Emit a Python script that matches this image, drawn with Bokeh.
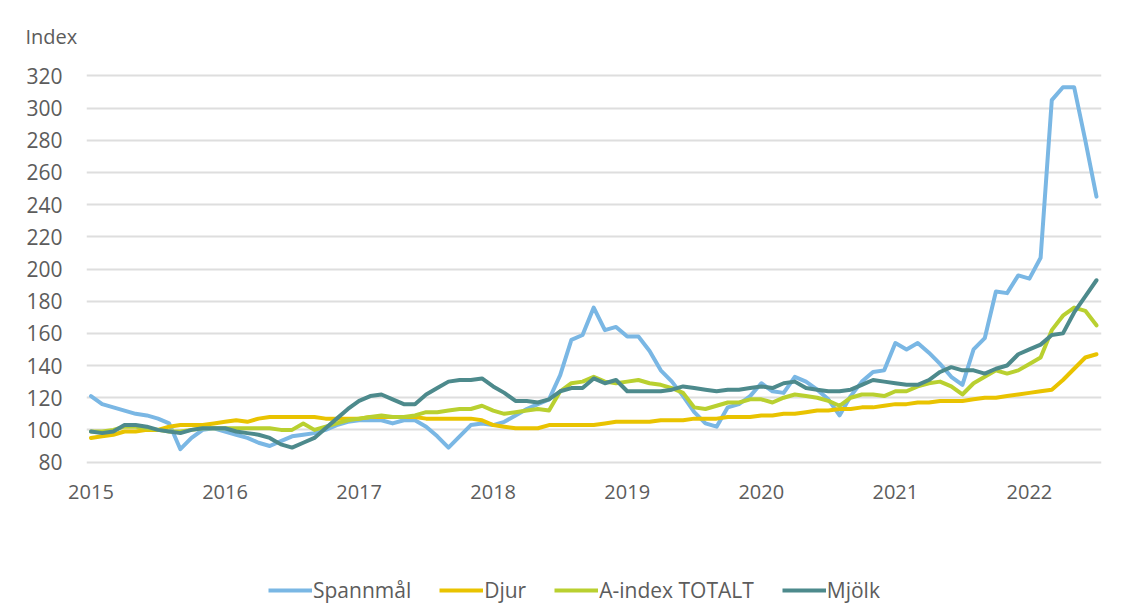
from bokeh.plotting import figure
from bokeh.layouts import column
from bokeh.models import ColumnDataSource, Range1d, FixedTicker, SingleIntervalTicker, Legend, LegendItem
from bokeh.embed import file_html
from bokeh.resources import INLINE

# ---- data (monthly index, Jan 2015 - Jul 2022) ----
spannmal = [121, 116, 114, 112, 110, 109, 107, 104, 88, 95, 100, 101,
            99, 97, 95, 92, 90, 93, 96, 97, 98, 100, 103, 105,
            106, 106, 106, 104, 106, 106, 102, 96, 89, 96, 103, 104,
            103, 105, 109, 113, 116, 119, 134, 156, 159, 176, 162, 164,
            158, 158, 149, 137, 130, 121, 111, 104, 102, 114, 116, 121,
            129, 124, 123, 133, 130, 125, 119, 109, 121, 130, 136, 137,
            154, 150, 154, 148, 141, 133, 128, 150, 157, 186, 185, 196,
            194, 207, 305, 313, 313, 280, 245]
djur = [95, 96, 97, 99, 99, 100, 100, 102, 103, 103, 103, 104,
        105, 106, 105, 107, 108, 108, 108, 108, 108, 107, 107, 107,
        107, 108, 108, 108, 108, 108, 107, 107, 107, 107, 107, 106,
        103, 102, 101, 101, 101, 103, 103, 103, 103, 103, 104, 105,
        105, 105, 105, 106, 106, 106, 107, 107, 107, 108, 108, 108,
        109, 109, 110, 110, 111, 112, 112, 113, 113, 114, 114, 115,
        116, 116, 117, 117, 118, 118, 118, 119, 120, 120, 121, 122,
        123, 124, 125, 131, 138, 145, 147]
a_index = [99, 99, 100, 102, 102, 101, 100, 99, 99, 100, 101, 101,
           101, 101, 101, 101, 101, 100, 100, 104, 100, 102, 104, 106,
           107, 108, 109, 108, 108, 109, 111, 111, 112, 113, 113, 115,
           112, 110, 111, 112, 113, 112, 124, 129, 130, 133, 130, 129,
           130, 131, 129, 128, 126, 123, 114, 113, 115, 117, 117, 119,
           119, 117, 120, 122, 121, 120, 118, 115, 120, 122, 122, 121,
           124, 124, 127, 129, 130, 127, 122, 129, 133, 137, 135, 137,
           141, 145, 162, 171, 176, 174, 165]
mjolk = [99, 98, 99, 103, 103, 102, 100, 99, 98, 100, 101, 101,
         101, 99, 98, 97, 95, 91, 89, 92, 95, 101, 107, 113,
         118, 121, 122, 119, 116, 116, 122, 126, 130, 131, 131, 132,
         127, 123, 118, 118, 117, 119, 124, 126, 126, 132, 129, 131,
         124, 124, 124, 124, 125, 127, 126, 125, 124, 125, 125, 126,
         127, 126, 129, 130, 126, 125, 124, 124, 125, 128, 131, 130,
         129, 128, 128, 131, 136, 139, 137, 137, 135, 138, 140, 147,
         150, 153, 159, 160, 173, 183, 193]
months = list(range(len(spannmal)))
year_labels = ["2015", "2016", "2017", "2018", "2019", "2020", "2021", "2022"]
series_cols = ["spannmal", "djur", "a_index", "mjolk"]
series_names = ["Spannmål", "Djur", "A-index TOTALT", "Mjölk"]
series_colors = ["#7ab7e4", "#e9c300", "#b9d030", "#4d8a8c"]

FONT = "Open Sans"
TXT = "#5c5c5c"
LW = 4

p = figure(width=1127, height=570, output_backend="svg", toolbar_location=None,
           x_range=Range1d(-0.4, 90.45), y_range=Range1d(76, 324),
           min_border_left=86, min_border_right=26, min_border_top=68,
           min_border_bottom=102,
           border_fill_color="white", background_fill_color="white",
           outline_line_color=None)

source = ColumnDataSource(dict(month=months, spannmal=spannmal, djur=djur,
                               a_index=a_index, mjolk=mjolk))
for col, color in zip(series_cols, series_colors):
    p.line("month", col, source=source, line_color=color, line_width=LW,
           line_join="round", line_cap="round")

# title "Index"
p.title.text = "Index"
p.title.align = "left"
p.title.offset = -61
p.title.standoff = 40
p.title.text_font = FONT
p.title.text_font_size = "20px"
p.title.text_font_style = "normal"
p.title.text_color = TXT

# axes
p.yaxis.ticker = SingleIntervalTicker(interval=20)
p.xaxis.ticker = FixedTicker(ticks=[12 * i for i in range(len(year_labels))])
p.xaxis.major_label_overrides = {12 * i: lab for i, lab in enumerate(year_labels)}
for ax in (p.xaxis, p.yaxis):
    ax.axis_line_color = None
    ax.major_tick_line_color = None
    ax.minor_tick_line_color = None
    ax.major_label_text_font = FONT
    ax.major_label_text_color = TXT
p.xaxis.major_label_text_font_size = "20px"
p.yaxis.major_label_text_font_size = "21px"
p.yaxis.major_label_standoff = 18
p.xaxis.major_label_standoff = 10

p.xgrid.grid_line_color = None
p.ygrid.grid_line_color = "#dedede"
p.ygrid.grid_line_width = 2

# legend strip below the chart (its series lie outside its own y-range, only the legend shows)
lf = figure(width=1127, height=40, output_backend="svg", toolbar_location=None,
            x_range=Range1d(0, 1), y_range=Range1d(0, 1),
            x_axis_type=None, y_axis_type=None, min_border=0,
            outline_line_color=None, border_fill_color="white")
lf.grid.visible = False
items = []
for col, name, color in zip(series_cols, series_names, series_colors):
    r = lf.line("month", col, source=source, line_color=color, line_width=LW)
    items.append(LegendItem(label=name, renderers=[r]))
legend = Legend(items=items, orientation="horizontal", location=(182, 6),
                label_text_font=FONT, label_text_font_size="21px", label_text_color=TXT,
                glyph_width=44, glyph_height=22, label_standoff=1, spacing=28,
                padding=0, margin=0, border_line_color=None,
                background_fill_alpha=0)
lf.add_layout(legend)

layout = column(p, lf, spacing=0)
open("out.html", "w").write(file_html(layout, INLINE))
